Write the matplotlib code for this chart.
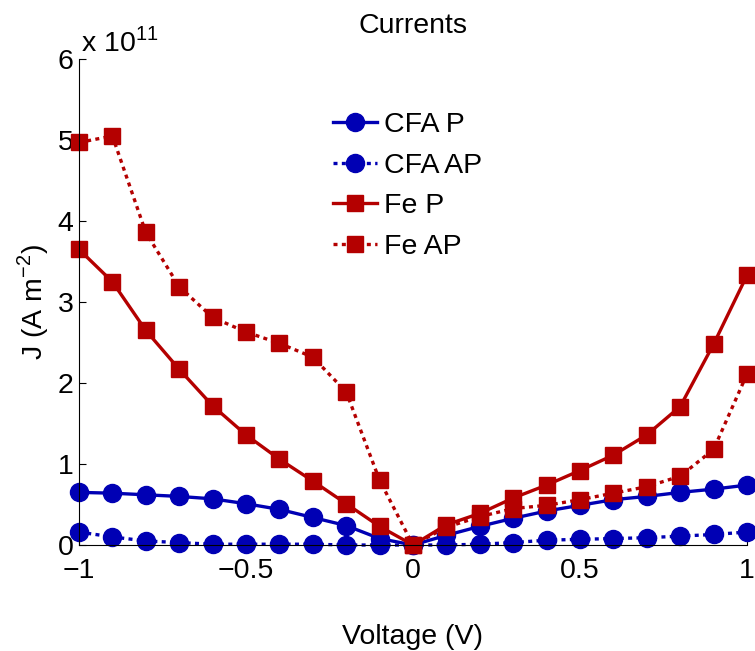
import matplotlib
matplotlib.use('Agg')
import matplotlib.pyplot as plt
import numpy as np

matplotlib.rcParams['font.family'] = ['Liberation Sans', 'DejaVu Sans']
matplotlib.rcParams['mathtext.fontset'] = 'custom'
matplotlib.rcParams['mathtext.rm'] = 'Liberation Sans'

# voltage points (V)
voltage = np.round(np.arange(-1.0, 1.01, 0.1), 2)

# current densities, units of 1e11 A m^-2
cfa_p = [0.65, 0.64, 0.62, 0.60, 0.57, 0.51, 0.44, 0.34, 0.24, 0.08, 0.0,
         0.12, 0.23, 0.33, 0.42, 0.49, 0.56, 0.60, 0.65, 0.69, 0.74]
cfa_ap = [0.16, 0.10, 0.05, 0.03, 0.01, 0.01, 0.01, 0.01, 0.0, 0.0, 0.0,
          0.0, 0.01, 0.03, 0.06, 0.07, 0.08, 0.09, 0.11, 0.13, 0.16]
fe_p = [3.65, 3.25, 2.65, 2.17, 1.72, 1.36, 1.06, 0.79, 0.51, 0.23, 0.0,
        0.25, 0.39, 0.58, 0.74, 0.92, 1.11, 1.36, 1.71, 2.48, 3.33]
fe_ap = [4.97, 5.05, 3.86, 3.19, 2.81, 2.63, 2.49, 2.32, 1.89, 0.80, 0.0,
         0.22, 0.35, 0.45, 0.49, 0.56, 0.64, 0.72, 0.85, 1.18, 2.11]

blue = '#0000b4'
red = '#b40000'
dotted = (0, (1.2, 1.3))
FS = 20.5

fig = plt.figure(figsize=(7.55, 6.51), dpi=100)
ax = fig.add_axes([0.1046, 0.1628, 0.8848, 0.7465])

ax.plot(voltage, cfa_p, '-', color=blue, lw=2.4, marker='o', ms=13, label='CFA P', clip_on=False)
ax.plot(voltage, cfa_ap, linestyle=dotted, color=blue, lw=2.4, marker='o', ms=13, label='CFA AP', clip_on=False)
ax.plot(voltage, fe_p, '-', color=red, lw=2.4, marker='s', ms=11, label='Fe P', clip_on=False)
ax.plot(voltage, fe_ap, linestyle=dotted, color=red, lw=2.4, marker='s', ms=11, label='Fe AP', clip_on=False)

ax.set_xlim(-1, 1)
ax.set_ylim(0, 6)
ax.set_xticks([-1, -0.5, 0, 0.5, 1])
ax.set_xticklabels(['\u22121', '\u22120.5', '0', '0.5', '1'])
ax.set_yticks(range(7))
ax.tick_params(direction='in', labelsize=FS, length=5, width=0.8)
ax.tick_params(axis='x', pad=9.5)
ax.tick_params(axis='y', pad=4)
ax.spines['top'].set_visible(False)
ax.spines['right'].set_visible(False)
for s in ['left', 'bottom']:
    ax.spines[s].set_linewidth(0.8)

ax.set_title('Currents', fontsize=FS, pad=19)
ax.set_xlabel('Voltage (V)', fontsize=FS, labelpad=28.5)
ax.set_ylabel('J (A m$^{-2}$)', fontsize=FS, labelpad=4.5)
ax.text(0.003, 1.0165, 'x 10$^{11}$', transform=ax.transAxes, fontsize=FS,
        ha='left', va='baseline')

ax.legend(loc='upper left', bbox_to_anchor=(0.380, 0.891), frameon=False,
          fontsize=FS, handlelength=1.55, handletextpad=0.25, labelspacing=0.51,
          borderpad=0, borderaxespad=0)

fig.savefig('out.png', dpi=100)
